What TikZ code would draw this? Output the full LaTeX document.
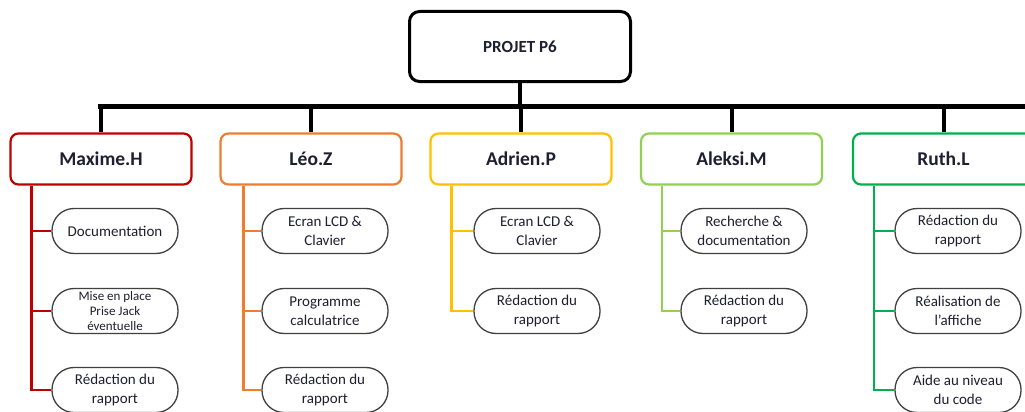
\documentclass[tikz,border=0pt]{standalone}
\usepackage{fontspec}
\setmainfont{Carlito}
\usetikzlibrary{positioning}
\definecolor{cred}{HTML}{C00000}
\definecolor{corange}{HTML}{ED7D31}
\definecolor{cyellow}{HTML}{FFC000}
\definecolor{clgreen}{HTML}{92D050}
\definecolor{cgreen}{HTML}{00B050}
\definecolor{pillgray}{HTML}{404040}
\definecolor{txt}{HTML}{1F1F2F}
\begin{document}
\begin{tikzpicture}[x=1pt,y=-1pt,
  topbox/.style={draw=black,line width=3pt,rounded corners=10pt,fill=white,minimum width=221pt,minimum height=70pt,font=\fontsize{17}{20}\selectfont\bfseries,text=txt},
  person/.style={draw=#1,line width=2.2pt,rounded corners=8pt,fill=white,minimum width=181pt,minimum height=51pt,font=\fontsize{19.5}{22}\selectfont\bfseries,text=txt},
  pill/.style={draw=pillgray,line width=1.3pt,rounded corners=22pt,fill=white,minimum width=126pt,minimum height=45pt,inner sep=1pt,align=center,font=\fontsize{15}{19.5}\selectfont,text=txt},
  branch/.style={draw=#1,line width=2.5pt},
  trunk/.style={draw=black,line width=5pt}]
\useasboundingbox (0,0) rectangle (1025,412);
\coordinate (bar) at (98,106);
\coordinate (barend) at (1025,106);
% top
\node[topbox] (p) at (520,46.5) {PROJET P6};
% persons
\node[person=cred] (m) at (101,159) {Maxime.H};
\node[person=corange] (l) at (311,159) {Léo.Z};
\node[person=cyellow] (a) at (521,159) {Adrien.P};
\node[person=clgreen] (k) at (731.5,159) {Aleksi.M};
\node[person=cgreen] (r) at (943.5,159) {Ruth.L};
% trunk
\draw[trunk] (bar) -- (barend);
\draw[trunk,line width=4pt] (p.south) -- (p.south |- bar);
\foreach \n in {m,l,a,k,r}{\draw[trunk,line width=4pt] (\n.north |- bar) -- (\n.north);}
% tasks
\node[pill] (m1) at (115,231) {Documentation};
\node[pill,font=\fontsize{13}{15}\selectfont] (m2) at (115,311) {Mise en place\\Prise Jack\\éventuelle};
\node[pill] (m3) at (115,390) {Rédaction du\\rapport};
\node[pill] (l1) at (325,231) {Ecran LCD \&\\Clavier};
\node[pill] (l2) at (325,311) {Programme\\calculatrice};
\node[pill] (l3) at (325,390) {Rédaction du\\rapport};
\node[pill] (a1) at (537,231) {Ecran LCD \&\\Clavier};
\node[pill] (a2) at (537,311) {Rédaction du\\rapport};
\node[pill] (k1) at (744,231) {Recherche \&\\documentation};
\node[pill] (k2) at (744,311) {Rédaction du\\rapport};
\node[pill] (r1) at (958,231) {Rédaction du\\rapport};
\node[pill] (r2) at (958,311) {Réalisation de\\l’affiche};
\node[pill] (r3) at (958,390) {Aide au niveau\\du code};
% branch lines
\coordinate (mv) at ([xshift=22pt]m.south west);
\coordinate (lv) at ([xshift=24pt]l.south west);
\coordinate (av) at ([xshift=22pt]a.south west);
\coordinate (kv) at ([xshift=22pt]k.south west);
\coordinate (rv) at ([xshift=22pt]r.south west);
\draw[branch=cred] (mv) |- (m3.west);
\draw[branch=cred] (mv |- m1.west) -- (m1.west);
\draw[branch=cred] (mv |- m2.west) -- (m2.west);
\draw[branch=corange] (lv) |- (l3.west);
\draw[branch=corange] (lv |- l1.west) -- (l1.west);
\draw[branch=corange] (lv |- l2.west) -- (l2.west);
\draw[branch=cyellow] (av) |- (a2.west);
\draw[branch=cyellow] (av |- a1.west) -- (a1.west);
\draw[branch=clgreen] (kv) |- (k2.west);
\draw[branch=clgreen] (kv |- k1.west) -- (k1.west);
\draw[branch=cgreen] (rv) |- (r3.west);
\draw[branch=cgreen] (rv |- r1.west) -- (r1.west);
\draw[branch=cgreen] (rv |- r2.west) -- (r2.west);
\end{tikzpicture}
\end{document}
